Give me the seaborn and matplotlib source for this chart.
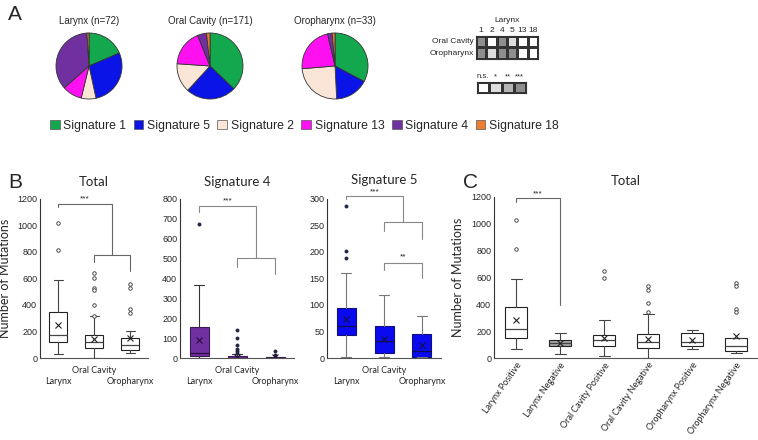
"""
Mutational signature figure: pies of signature share per site (A),
boxplots of mutation counts per site (B) and by HPV status (C).
"""

import matplotlib
matplotlib.use("Agg")
import matplotlib.pyplot as plt
import matplotlib.patches as mpatches
import seaborn as sns
import pandas as pd

W, H = 758, 440

# === Panel A data ===
sig_names = ["Signature 1", "Signature 5", "Signature 2", "Signature 13", "Signature 4", "Signature 18"]
sig_colors = ["#13a84d", "#0a14e6", "#fbe5d6", "#ff10f0", "#7030a0", "#ed7d31"]
pie_titles = ["Larynx (n=72)", "Oral Cavity (n=171)", "Oropharynx (n=33)"]
larynx_share = [18.6, 28.0, 7.2, 9.7, 35.5, 1.0]
oral_share = [37.2, 24.6, 14.3, 17.8, 4.4, 1.7]
oro_share = [32.8, 16.4, 24.5, 22.7, 2.2, 1.4]

heat_cols = ["1", "2", "4", "5", "13", "18"]
heat_rows = ["Oral Cavity", "Oropharynx"]
oral_level = [3, 0, 3, 1, 0, 0]
oro_level = [3, 1, 3, 3, 0, 0]
level_labels = ["n.s.", "*", "**", "***"]
level_colors = ["#ffffff", "#dedede", "#b5b5b5", "#8e8e8e"]

# === Panel B data ===
sites = ["Larynx", "Oral Cavity", "Oropharynx"]

total_q1 = [120, 75, 57]
total_med = [175, 120, 95]
total_q3 = [345, 175, 150]
total_lo = [30, 0, 37]
total_hi = [590, 315, 207]
total_mean = [250, 142, 150]
total_fliers = [[1020, 815], [640, 600, 530, 510, 400, 320], [555, 532, 367, 337]]

sig4_q1 = [8, 0, 0]
sig4_med = [25, 2, 1]
sig4_q3 = [155, 8, 3]
sig4_lo = [0, 0, 0]
sig4_hi = [368, 18, 7]
sig4_mean = [92, 6, 3]
sig4_fliers = [[673], [140, 99, 64, 47, 33, 23], [33, 16]]

sig5_q1 = [43, 9, 1]
sig5_med = [61, 33, 13]
sig5_q3 = [94, 60, 46]
sig5_lo = [1, 1, 1]
sig5_hi = [160, 119, 80]
sig5_mean = [73, 36, 24]
sig5_fliers = [[286, 202, 188], [], []]

# === Panel C data ===
c_groups = ["Larynx Positive", "Larynx Negative", "Oral Cavity Positive",
            "Oral Cavity Negative", "Oropharynx Positive", "Oropharynx Negative"]
c_q1 = [149, 87, 92, 74, 87, 50]
c_med = [216, 112, 136, 117, 119, 92]
c_q3 = [380, 131, 174, 181, 186, 149]
c_lo = [67, 30, 17, 0, 69, 37]
c_hi = [588, 186, 280, 330, 211, 149]
c_mean = [285, 114, 146, 144, 131, 161]
c_fliers = [[1025, 816], [], [645, 600], [533, 509, 409, 340], [], [558, 533, 365, 340]]
c_fill = ["white", "#a6a6a6", "white", "white", "white", "white"]

sns.set_style("white")
plt.rcParams["font.family"] = ["Liberation Sans", "DejaVu Sans"]

fig = plt.figure(figsize=(W / 100, H / 100), dpi=100)


def rect(x0, y0, x1, y1):
    """Pixel box (top-left origin) to figure fraction rect."""
    return [x0 / W, 1 - y1 / H, (x1 - x0) / W, (y1 - y0) / H]


# --- A: pies ---
pie_centres = [89, 210, 335]
for cx, title, share in zip(pie_centres, pie_titles, [larynx_share, oral_share, oro_share]):
    ax = fig.add_axes(rect(cx - 34, 32, cx + 34, 100))
    ax.pie(share, colors=sig_colors, startangle=90, counterclock=False,
           wedgeprops=dict(edgecolor="#333333", linewidth=0.6))
    ax.set_xlim(-1.03, 1.03)
    ax.set_ylim(-1.03, 1.03)
    ax.set_aspect("equal")
    fig.text(cx / W, 1 - 21 / H, title, ha="center", va="center", fontsize=7)

handles = [mpatches.Patch(facecolor=c, edgecolor="#555555", linewidth=0.5, label=n)
           for n, c in zip(sig_names, sig_colors)]
fig.legend(handles=handles, loc="center left", bbox_to_anchor=(45 / W, 1 - 126 / H),
           ncol=6, frameon=False, fontsize=8.8, handlelength=0.8, handleheight=0.8,
           handletextpad=0.3, columnspacing=0.6, borderaxespad=0)

# significance grid
heat = pd.DataFrame([oral_level, oro_level], index=heat_rows, columns=heat_cols)
cmap = matplotlib.colors.ListedColormap(level_colors)
ax = fig.add_axes(rect(476, 36, 538, 59))
sns.heatmap(heat, ax=ax, cmap=cmap, vmin=-0.5, vmax=3.5, cbar=False,
            linewidths=0.8, linecolor="#333333",
            xticklabels=heat_cols, yticklabels=heat_rows)
ax.xaxis.tick_top()
ax.tick_params(length=0, labelsize=6, pad=1.5)
ax.tick_params(axis="x", labelrotation=0)
ax.tick_params(axis="y", labelrotation=0)
ax.set_title("Larynx", fontsize=6, pad=10)
for s in ax.spines.values():
    s.set_visible(True)
    s.set_color("#333333")
    s.set_linewidth(0.8)

leg = pd.DataFrame([[0, 1, 2, 3]], columns=level_labels)
ax = fig.add_axes(rect(477, 82, 526, 93))
sns.heatmap(leg, ax=ax, cmap=cmap, vmin=-0.5, vmax=3.5, cbar=False,
            linewidths=0.8, linecolor="#333333",
            xticklabels=level_labels, yticklabels=False)
ax.xaxis.tick_top()
ax.tick_params(length=0, labelsize=5.5, pad=1.5)
ax.tick_params(axis="x", labelrotation=0)
for s in ax.spines.values():
    s.set_visible(True)
    s.set_color("#333333")
    s.set_linewidth(0.8)


# --- boxplot helper ---
def draw_boxes(ax, q1, med, q3, lo, hi, mean, fliers, fills, style):
    stats = [dict(q1=a, med=b, q3=c, whislo=d, whishi=e, mean=f, fliers=g)
             for a, b, c, d, e, f, g in zip(q1, med, q3, lo, hi, mean, fliers)]
    bp = ax.bxp(stats, positions=range(len(stats)), widths=0.5, patch_artist=True,
                showmeans=True, showcaps=True,
                boxprops=dict(edgecolor=style["edge"], linewidth=0.8),
                medianprops=dict(color=style["median"], linewidth=0.9),
                whiskerprops=dict(color=style["whisker"], linewidth=0.8),
                capprops=dict(color=style["whisker"], linewidth=0.8),
                meanprops=dict(marker="x", markeredgecolor=style["mean"], markersize=4,
                               markeredgewidth=0.8),
                flierprops=dict(marker="o", markersize=style["fsize"],
                                markerfacecolor=style["ffill"],
                                markeredgecolor=style["fedge"], markeredgewidth=0.6))
    for patch, fc in zip(bp["boxes"], fills):
        patch.set_facecolor(fc)
    ax.set_xlim(-0.5, len(stats) - 0.5)


def style_axis(ax, ymax, step, title, pad=9):
    ax.set_ylim(0, ymax)
    ax.set_yticks(range(0, ymax + 1, step))
    for side in ["top", "right"]:
        ax.spines[side].set_visible(False)
    ax.spines["left"].set_color("#333333")
    ax.spines["bottom"].set_color("#555555")
    ax.spines["left"].set_linewidth(0.8)
    ax.spines["bottom"].set_linewidth(0.8)
    ax.tick_params(length=0, labelsize=6.5, pad=2)
    ax.set_title(title, fontsize=9.5, family="Lato", pad=pad)


def site_ticks(ax):
    # staggered site names: middle one sits higher
    ax.set_xticklabels(sites, fontsize=6.5, family="Lato")
    for i, tick in enumerate(ax.xaxis.get_major_ticks()):
        tick.set_pad(6 if i == 1 else 13.5)


def bracket(ax, x0, x1, y, d0, d1, color="#666666"):
    ax.plot([x0, x0, x1, x1], [d0, y, y, d1], color=color, lw=0.8, clip_on=False)


white_style = dict(edge="#222222", median="#444444", whisker="#444444", mean="#222222",
                   fsize=2.5, ffill="white", fedge="#333333")

# --- B: Total ---
ax = fig.add_axes(rect(40, 199, 148, 358))
draw_boxes(ax, total_q1, total_med, total_q3, total_lo, total_hi, total_mean,
           total_fliers, ["white"] * 3, white_style)
style_axis(ax, 1200, 200, "Total")
site_ticks(ax)
ax.set_ylabel("Number of Mutations", fontsize=9, family="Lato")
ax.yaxis.set_label_coords(-0.27, 0.5)
bracket(ax, 1, 2, 775, 725, 660)
bracket(ax, 0, 1.5, 1165, 1140, 775)
ax.text(0.75, 1175, "***", ha="center", va="bottom", fontsize=6)

# --- B: Signature 4 ---
purple_style = dict(edge="#3a1a55", median="#2a0a40", whisker="#333333", mean="#2a0a40",
                    fsize=2.2, ffill="#1f2540", fedge="#1f2540")
ax = fig.add_axes(rect(180, 199, 294, 358))
draw_boxes(ax, sig4_q1, sig4_med, sig4_q3, sig4_lo, sig4_hi, sig4_mean,
           sig4_fliers, ["#7030a0"] * 3, purple_style)
style_axis(ax, 800, 100, "Signature 4")
site_ticks(ax)
bracket(ax, 1, 2, 502, 460, 422, color="#888888")
bracket(ax, 0, 1.5, 765, 735, 502, color="#888888")
ax.text(0.75, 772, "***", ha="center", va="bottom", fontsize=6)

# --- B: Signature 5 ---
blue_style = dict(edge="#10107a", median="#101050", whisker="#777777", mean="#101050",
                  fsize=2.2, ffill="#1f2540", fedge="#1f2540")
ax = fig.add_axes(rect(327, 199, 441, 358))
draw_boxes(ax, sig5_q1, sig5_med, sig5_q3, sig5_lo, sig5_hi, sig5_mean,
           sig5_fliers, ["#0a0af0"] * 3, blue_style)
style_axis(ax, 300, 50, "Signature 5", pad=11)
site_ticks(ax)
bracket(ax, 1, 2, 256, 240, 225, color="#888888")
bracket(ax, 0, 1.5, 306, 300, 256, color="#888888")
bracket(ax, 1, 2, 179, 166, 151, color="#888888")
ax.text(1.5, 184, "**", ha="center", va="bottom", fontsize=6)
ax.text(0.75, 307, "***", ha="center", va="bottom", fontsize=6)

# --- C: Total by HPV status ---
ax = fig.add_axes(rect(494, 197, 758, 358))
draw_boxes(ax, c_q1, c_med, c_q3, c_lo, c_hi, c_mean, c_fliers, c_fill, white_style)
style_axis(ax, 1200, 200, "Total")
ax.set_xticklabels(c_groups, rotation=55, ha="right", rotation_mode="anchor",
                   fontsize=6.5, family="Lato")
ax.set_ylabel("Number of Mutations", fontsize=9, family="Lato")
ax.yaxis.set_label_coords(-0.115, 0.5)
bracket(ax, 0, 1, 1190, 1160, 397)
ax.text(0.5, 1200, "***", ha="center", va="bottom", fontsize=6)

# panel letters
for x, y, s in [(8, 15, "A"), (8, 183, "B"), (463, 183, "C")]:
    fig.text(x / W, 1 - y / H, s, fontsize=15, ha="left", va="center")

fig.savefig("out.png", dpi=100)
